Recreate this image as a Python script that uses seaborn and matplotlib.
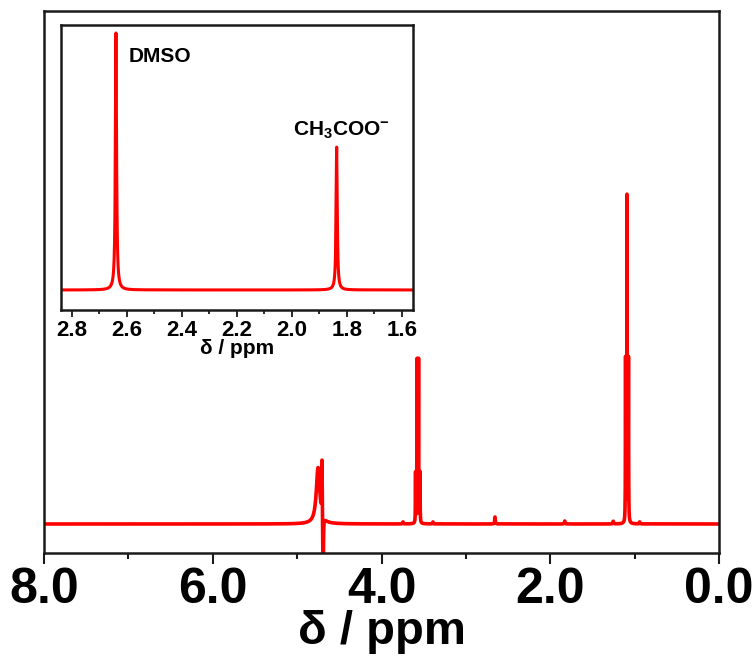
import numpy as np
import pandas as pd
import matplotlib
matplotlib.use("Agg")
import matplotlib.pyplot as plt
import seaborn as sns
from matplotlib import font_manager as fm
from matplotlib.ticker import MultipleLocator, FormatStrFormatter

# ---- data (peak lists) ----
# main spectrum: line positions (ppm), heights (rel. units), half widths (ppm)
main_ppm    = [1.107, 1.090, 1.073, 3.596, 3.578, 3.561, 3.544,
               4.752, 4.705, 4.692, 2.655, 1.828, 3.745, 3.390, 1.253, 0.940]
main_height = [49.0, 98.0, 49.0, 15.0, 49.0, 49.0, 15.0,
               17.0, 17.0, -30.0, 2.1, 0.9, 0.6, 0.6, 0.8, 0.6]
main_width  = [0.002, 0.002, 0.002, 0.002, 0.002, 0.002, 0.002,
               0.025, 0.003, 0.003, 0.004, 0.004, 0.004, 0.004, 0.004, 0.004]

# inset spectrum
inset_ppm    = [2.640, 1.837]
inset_height = [1.0, 0.556]
inset_width  = [0.0025, 0.0025]
inset_labels = ["DMSO", "CH$_3$COO$^{-}$"]

main_ticks = [8.0, 6.0, 4.0, 2.0, 0.0]
inset_ticks = [2.8, 2.6, 2.4, 2.2, 2.0, 1.8, 1.6]


def lorentz_sum(x, pos, h, w):
    y = np.zeros_like(x)
    for p, hh, ww in zip(pos, h, w):
        y += hh / (1.0 + ((x - p) / ww) ** 2)
    return y


x_main = np.linspace(0.0, 8.0, 32001)
df_main = pd.DataFrame({"ppm": x_main,
                        "I": lorentz_sum(x_main, main_ppm, main_height, main_width)})
x_in = np.linspace(1.5, 2.9, 14001)
df_in = pd.DataFrame({"ppm": x_in,
                      "I": lorentz_sum(x_in, inset_ppm, inset_height, inset_width)})

sns.set_theme(style="white")
names = {f.name for f in fm.fontManager.ttflist}
fam = ["Liberation Sans Narrow", "Liberation Sans", "DejaVu Sans"]
fam = [f for f in fam if f in names] or ["DejaVu Sans"]
plt.rcParams["font.family"] = fam
plt.rcParams["font.weight"] = "bold"
plt.rcParams["mathtext.default"] = "regular"
plt.rcParams["text.color"] = "black"
plt.rcParams["xtick.color"] = "black"

fig = plt.figure(figsize=(7.55, 6.62), dpi=100)
ax = fig.add_axes([0.0583, 0.1647, 0.894, 0.8187])
sns.lineplot(data=df_main, x="ppm", y="I", ax=ax, color="#ff0000",
             linewidth=2.6, estimator=None)
ax.set_xlim(8.0, 0.0)
ax.set_ylim(-8.73, 154.5)
ax.set_yticks([])
ax.set_ylabel("")
ax.set_xticks(main_ticks)
ax.xaxis.set_major_formatter(FormatStrFormatter("%.1f"))
ax.xaxis.set_minor_locator(MultipleLocator(1.0))
ax.tick_params(axis="x", which="major", direction="out", length=8, width=1.5,
               labelsize=36, pad=2, bottom=True, color="#1a1a1a",
               labelcolor="black")
ax.tick_params(axis="x", which="minor", direction="out", length=4, width=1.5,
               bottom=True, color="#1a1a1a")
for lab in ax.get_xticklabels():
    lab.set_fontweight("bold")
ax.set_xlabel("δ / ppm", fontsize=34, fontweight="bold", labelpad=-2,
              color="black")
for s in ax.spines.values():
    s.set_linewidth(1.8)
    s.set_color("#1a1a1a")

axi = fig.add_axes([0.0808, 0.5317, 0.466, 0.4305])
sns.lineplot(data=df_in, x="ppm", y="I", ax=axi, color="#ff0000",
             linewidth=2.2, estimator=None)
axi.set_xlim(2.84, 1.56)
axi.set_ylim(-0.078, 1.031)
axi.set_yticks([])
axi.set_ylabel("")
axi.set_xticks(inset_ticks)
axi.xaxis.set_major_formatter(FormatStrFormatter("%.1f"))
axi.xaxis.set_minor_locator(MultipleLocator(0.1))
axi.tick_params(axis="x", which="major", direction="out", length=5, width=1.3,
                labelsize=16, pad=2, bottom=True, color="#1a1a1a",
                labelcolor="black")
axi.tick_params(axis="x", which="minor", direction="out", length=3, width=1.3,
                bottom=True, color="#1a1a1a")
for lab in axi.get_xticklabels():
    lab.set_fontweight("bold")
axi.set_xlabel("δ / ppm", fontsize=15, fontweight="bold", labelpad=-1,
               color="black")
for s in axi.spines.values():
    s.set_linewidth(1.8)
    s.set_color("#1a1a1a")
axi.set_facecolor("white")

axi.text(2.593, 0.887, inset_labels[0], fontsize=15, fontweight="bold",
         ha="left", va="baseline", color="black")
axi.text(1.995, 0.60, inset_labels[1], fontsize=15, fontweight="bold",
         ha="left", va="baseline", color="black")

fig.savefig("out.png", dpi=100, facecolor="white")
